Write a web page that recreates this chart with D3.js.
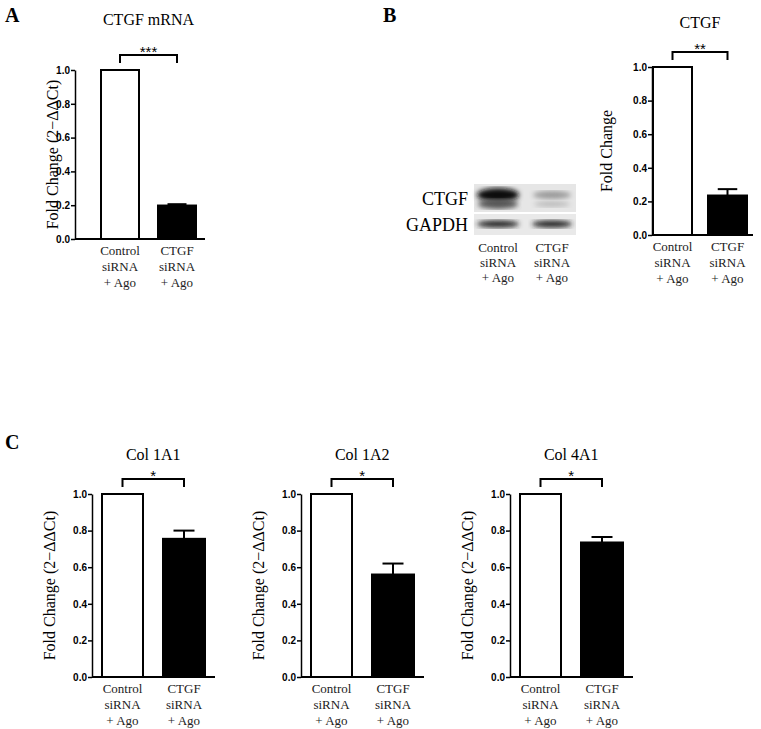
<!DOCTYPE html>
<html><head><meta charset="utf-8">
<script src="https://cdn.jsdelivr.net/npm/d3@7"></script>
<style>body{margin:0;background:#fff} .sf{font-family:"Liberation Serif","DejaVu Serif",serif} .ss{font-family:"Liberation Sans","DejaVu Sans",sans-serif}</style></head>
<body><svg id="c" width="761" height="729"></svg>
<script>
const categories = ["Control\nsiRNA\n+ Ago", "CTGF\nsiRNA\n+ Ago"];
const yTicks = [0, 0.2, 0.4, 0.6, 0.8, 1.0];
const titles = ["CTGF mRNA", "CTGF", "Col 1A1", "Col 1A2", "Col 4A1"];
const means = [[1.0, 0.198], [1.0, 0.235], [1.0, 0.755], [1.0, 0.56], [1.0, 0.735]];
const errs = [[0, 0.008], [0, 0.038], [0, 0.045], [0, 0.06], [0, 0.03]];
const sig = ["***", "**", "*", "*", "*"];
const yTitles = ["Fold Change (2\u2212\u0394\u0394Ct)", "Fold Change", "Fold Change (2\u2212\u0394\u0394Ct)", "Fold Change (2\u2212\u0394\u0394Ct)", "Fold Change (2\u2212\u0394\u0394Ct)"];
const blotLabels = ["CTGF", "GAPDH"];

const svg = d3.select("#c");

const layouts = [
  {ax:75, top:70, bot:239, w:130, b1:[26,38], b2:[83,38], titleY:25, ytx:58},
  {ax:652, top:67, bot:235, w:101, b1:[1,39], b2:[56,39], titleY:28, ytx:612},
  {ax:92, top:494, bot:677, w:123, b1:[10,41], b2:[71,42], titleY:460, ytx:55},
  {ax:301, top:494, bot:677, w:123, b1:[10,41], b2:[71,42], titleY:460, ytx:264},
  {ax:510, top:494, bot:677, w:123, b1:[10,41], b2:[71,42], titleY:460, ytx:473}
];

function panel(i){
  const L = layouts[i];
  const g = svg.append("g");
  const y = d3.scaleLinear().domain([0,1]).range([L.bot, L.top]);
  const ax = d3.axisLeft(y).tickValues(yTicks).tickFormat(d3.format(".1f")).tickSize(4).tickSizeOuter(0);
  const ag = g.append("g").attr("transform",`translate(${L.ax},0)`).call(ax);
  ag.attr("font-family",null).attr("font-size",null);
  ag.select(".domain").attr("stroke","#000").attr("stroke-width",1.5);
  ag.selectAll(".tick line").attr("stroke-width",1.5);
  ag.selectAll(".tick text").attr("class","ss").attr("font-weight","bold").attr("font-size",10).attr("x",-5);
  g.append("line").attr("x1",L.ax).attr("x2",L.ax+L.w).attr("y1",L.bot).attr("y2",L.bot).attr("stroke","#000").attr("stroke-width",1.8);
  const bars=[L.b1,L.b2];
  bars.forEach((b,j)=>{
    const v=means[i][j], e=errs[i][j], x0=L.ax+b[0], cx=x0+b[1]/2;
    if(e>0){
      g.append("line").attr("x1",cx).attr("x2",cx).attr("y1",y(v)).attr("y2",y(v+e)).attr("stroke","#000").attr("stroke-width",2);
      g.append("line").attr("x1",cx-b[1]/4).attr("x2",cx+b[1]/4).attr("y1",y(v+e)).attr("y2",y(v+e)).attr("stroke","#000").attr("stroke-width",2);
    }
    g.append("rect").attr("x",x0).attr("width",b[1]).attr("y",y(v)).attr("height",L.bot-y(v))
      .attr("fill",j? "#000":"#fff").attr("stroke","#000").attr("stroke-width",2);
    const lines=categories[j].split("\n");
    lines.forEach((t,k)=>g.append("text").attr("class","sf").attr("x",cx).attr("y",L.bot+16+k*16).attr("text-anchor","middle")
      .attr("font-size",13).attr("fill","#222").text(t));
  });
  const c1=L.ax+L.b1[0]+L.b1[1]/2, c2=L.ax+L.b2[0]+L.b2[1]/2;
  const by=L.top-15;
  g.append("path").attr("d",`M${c1},${by+8}V${by}H${c2}V${by+8}`).attr("fill","none").attr("stroke","#000").attr("stroke-width",2);
  g.append("text").attr("class","ss").attr("x",(c1+c2)/2).attr("y",by+2).attr("text-anchor","middle").attr("font-size",15).text(sig[i]);
  g.append("text").attr("class","sf").attr("x",(c1+c2)/2).attr("y",L.titleY).attr("text-anchor","middle").attr("font-size",16).text(titles[i]);
  g.append("text").attr("class","sf").attr("transform",`translate(${L.ytx},${(L.top+L.bot)/2}) rotate(-90)`).attr("text-anchor","middle")
    .attr("font-size",16).text(yTitles[i]);
}
for(let i=0;i<5;i++) panel(i);

[["A",5,22],["B",383,22],["C",5,449]].forEach(d=>svg.append("text").attr("class","sf").attr("x",d[1]).attr("y",d[2])
  .attr("font-weight","bold").attr("font-size",20).text(d[0]));

const defs=svg.append("defs");
defs.append("filter").attr("id","bl").append("feGaussianBlur").attr("stdDeviation",2.5);
const blot=svg.append("g");
blot.append("rect").attr("x",474).attr("y",184).attr("width",102).attr("height",28).attr("fill","#e6e6e6");
blot.append("rect").attr("x",474).attr("y",214).attr("width",102).attr("height",21).attr("fill","#e9e9e9");
blot.append("ellipse").attr("cx",498).attr("cy",195).attr("rx",21).attr("ry",7).attr("fill","#111").attr("filter","url(#bl)");
blot.append("ellipse").attr("cx",498).attr("cy",204).attr("rx",20).attr("ry",5).attr("fill","#555").attr("filter","url(#bl)");
blot.append("ellipse").attr("cx",552).attr("cy",195).attr("rx",19).attr("ry",4).attr("fill","#999").attr("filter","url(#bl)");
blot.append("ellipse").attr("cx",552).attr("cy",204).attr("rx",18).attr("ry",3).attr("fill","#bbb").attr("filter","url(#bl)");
blot.append("ellipse").attr("cx",498).attr("cy",224).attr("rx",21).attr("ry",3.5).attr("fill","#222").attr("filter","url(#bl)");
blot.append("ellipse").attr("cx",552).attr("cy",224).attr("rx",20).attr("ry",3.5).attr("fill","#222").attr("filter","url(#bl)");
blotLabels.forEach((t,k)=>blot.append("text").attr("class","sf").attr("x",468).attr("y",k?231:205).attr("text-anchor","end")
  .attr("font-size",18).text(t));
[498,552].forEach((cx,j)=>categories[j].split("\n").forEach((t,k)=>blot.append("text").attr("class","sf").attr("x",cx).attr("y",252+k*15)
  .attr("text-anchor","middle").attr("font-size",13).attr("fill","#222").text(t)));
</script></body></html>
